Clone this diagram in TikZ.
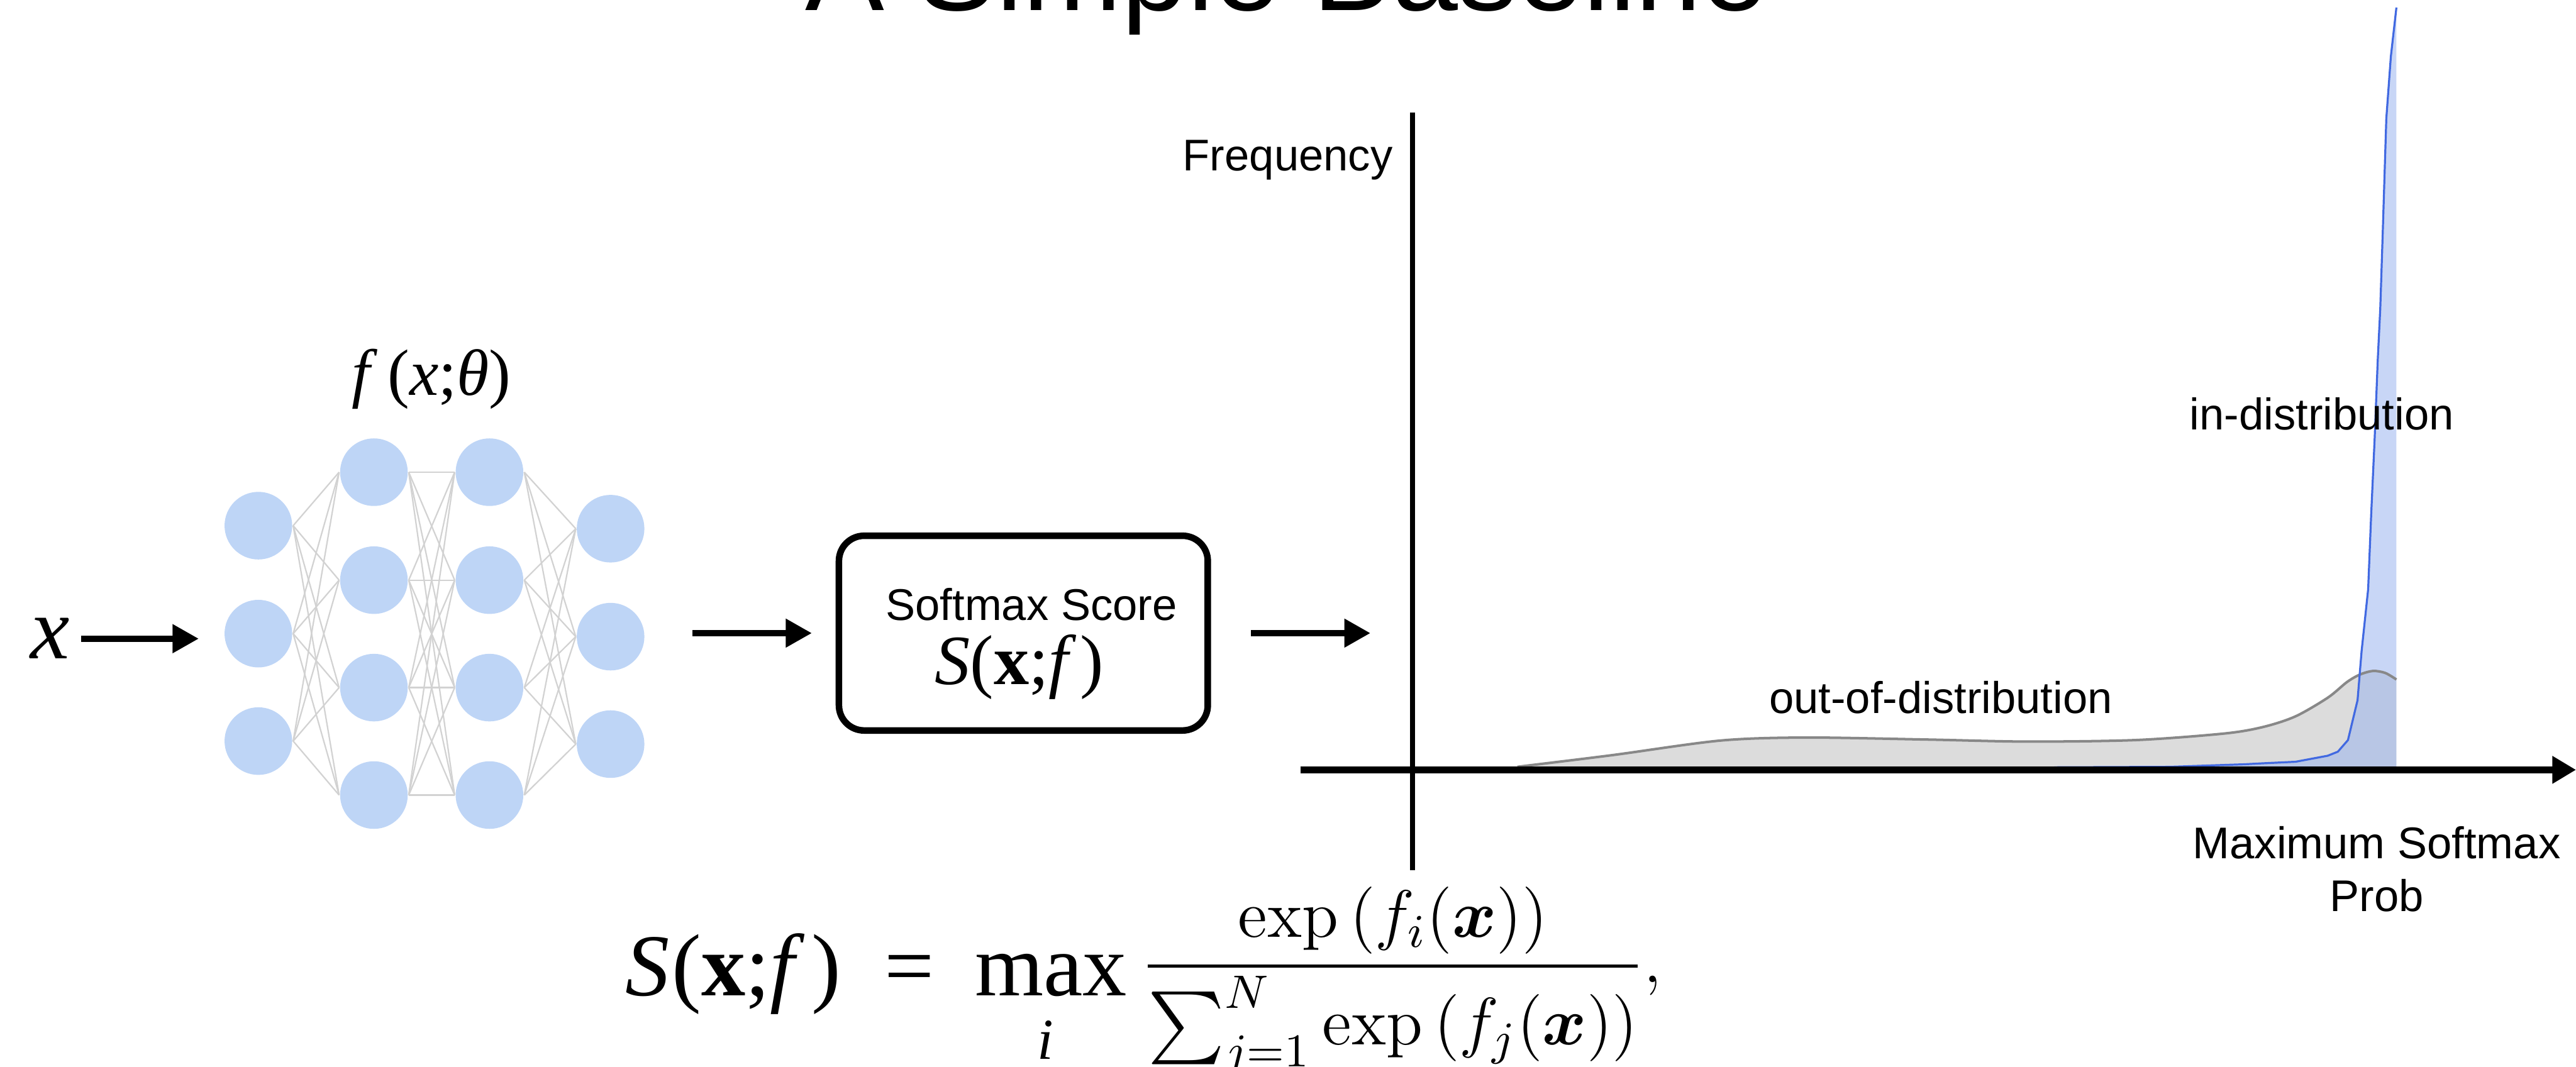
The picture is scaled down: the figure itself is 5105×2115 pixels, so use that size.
\RequirePackage{fix-cm}
\documentclass[tikz,border=0pt]{standalone}
\usepackage{amsmath,bm}
\usepackage{fontspec}
\newfontfamily\sansf{Liberation Sans}
\newfontfamily\serff{Liberation Serif}
\usetikzlibrary{arrows.meta,calc}
\definecolor{nodeblue}{RGB}{190,213,246}
\definecolor{edgegray}{RGB}{210,210,210}
\definecolor{oodfill}{RGB}{220,220,220}
\definecolor{oodline}{RGB}{136,136,136}
\definecolor{idline}{RGB}{65,105,225}
\definecolor{idfill}{RGB}{155,180,238}
\begin{document}
\begin{tikzpicture}[x=0.1pt,y=-0.1pt,
  neuron/.style={circle,fill=nodeblue,draw=none,inner sep=0pt,minimum size=13.4pt},
  wire/.style={draw=edgegray,line width=0.28pt},
  arr/.style={line width=1.3pt,-{Triangle[length=5.2pt,width=5.4pt]}},
  lab/.style={inner sep=0pt,font=\sansf\fontsize{8.8pt}{10.4pt}\selectfont},
  serlab/.style={inner sep=0pt,font=\serff\fontsize{#1}{1.2\dimexpr#1\relax}\selectfont},
  mathlab/.style={inner sep=0pt}]
\useasboundingbox (0,0) rectangle (5105,2115);
\clip (0,0) rectangle (5105,2115);

% title (cut off at the top edge)
\node[inner sep=0pt,anchor=base,font=\sansf\fontsize{23.5pt}{28pt}\selectfont] (title) at (2550,21) {A Simple Baseline};

% network
\foreach \i/\y in {1/1042,2/1256,3/1469} \node[neuron] (a\i) at (512,\y) {};
\foreach \i/\y in {1/936,2/1150,3/1363,4/1576} {
  \node[neuron] (b\i) at (741,\y) {};
  \node[neuron] (c\i) at (970,\y) {};
}
\foreach \i/\y in {1/1048,2/1262,3/1475} \node[neuron] (d\i) at (1210,\y) {};
\foreach \i in {1,2,3} \foreach \j in {1,...,4} \draw[wire] (a\i.east) -- (b\j.west);
\foreach \i in {1,...,4} \foreach \j in {1,...,4} \draw[wire] (b\i.east) -- (c\j.west);
\foreach \i in {1,...,4} \foreach \j in {1,2,3} \draw[wire] (c\i.east) -- (d\j.west);

\node[serlab=13pt,anchor=base] (flab) at (855,783) {\textit{f}\kern0.15em(\textit{x};\textit{θ})};
\node[serlab=17.5pt] (xlab) at (99,1266) {\textit{x}};
\draw[arr] ($(xlab.east)+(21,0)$) -- ($(xlab.east -| a2.west)+(-49,0)$);

% softmax box
\node[draw,line width=1.3pt,rounded corners=5pt,minimum width=73.1pt,minimum height=38.6pt,inner sep=0pt] (box) at (2028,1255) {};
\node[lab,anchor=base] (sms) at (2044,1230) {Softmax Score};
\node[serlab=14pt,anchor=base] (sxf) at (2020,1357) {\textit{S}(\textbf{x};\textit{f}\kern0.05em)};
\draw[arr] ($(box.west)+(-284,0)$) -- ($(box.west)+(-47,0)$);

% plot
\coordinate (O) at (2799,1526);
\coordinate (ytop) at (2799,223);
\coordinate (ybot) at (2799,1725);
\coordinate (xleft) at (2577,1526);
\coordinate (xright) at (5105,1526);
\draw[arr] ($(box.east)+(79,0)$) -- ($(box.east -| O)+(-83,0)$);

\fill[oodfill] plot[smooth] coordinates {(3007,1520) (3194,1497) (3409,1468) (3579,1462) (3821,1466) (4017,1470) (4232,1467) (4408,1454) (4485,1441) (4549,1420) (4613,1383) (4651,1352) (4677,1337) (4703,1330) (4727,1334) (4749,1347)} -- (4749,1520) -- cycle;
\fill[idfill,opacity=0.55] (4071,1521) -- (4300,1520) -- (4447,1515) -- (4485,1513) -- (4549,1510) -- (4613,1498) -- (4633,1490) -- (4653,1467) -- (4672,1388) -- (4680,1291) -- (4693,1168) -- (4699,1020) -- (4706,867) -- (4712,714) -- (4717,612) -- (4722,459) -- (4729,235) -- (4738,112) -- (4749,15) -- (4749,1520) -- cycle;
\draw[oodline,line width=0.5pt] plot[smooth] coordinates {(3007,1520) (3194,1497) (3409,1468) (3579,1462) (3821,1466) (4017,1470) (4232,1467) (4408,1454) (4485,1441) (4549,1420) (4613,1383) (4651,1352) (4677,1337) (4703,1330) (4727,1334) (4749,1347)};
\draw[idline,line width=0.4pt,line join=round] (4071,1521) -- (4300,1520) -- (4447,1515) -- (4485,1513) -- (4549,1510) -- (4613,1498) -- (4633,1490) -- (4653,1467) -- (4672,1388) -- (4680,1291) -- (4693,1168) -- (4699,1020) -- (4706,867) -- (4712,714) -- (4717,612) -- (4722,459) -- (4729,235) -- (4738,112) -- (4749,15);

\draw[line width=1.0pt] (ytop) -- (ybot);
\draw[line width=1.3pt,-{Triangle[length=4.7pt,width=5.2pt]}] (xleft) -- (xright);

\node[lab,anchor=base] (freq) at (2552,338) {Frequency};
\node[lab,anchor=base] (idl) at (4601,852) {in-distribution};
\node[lab,anchor=base] (oodl) at (3846,1414) {out-of-distribution};
\node[lab,anchor=base] (xl1) at (4710,1702) {Maximum Softmax};
\node[lab,anchor=base] (xl2) at (4710,1806) {Prob};

% formula
\node[serlab=17.5pt,anchor=base west] (fleft) at (1237,1973) {\textit{S}\kern0.03em(\textbf{x};\textit{f}\kern0.08em)\hspace{0.49em}=\hspace{0.46em}max};
\node[serlab=11.5pt,anchor=base] (fsub) at (2072,2100) {\textit{i}};
\node[mathlab,anchor=base west] (fright) at (2261,1948) {\fontsize{13.3pt}{16pt}\selectfont$\displaystyle \frac{\exp\,(f_i(\bm{x}))}{\sum_{j=1}^{N}\exp\,(f_j(\bm{x}))},$};
\end{tikzpicture}
\end{document}
